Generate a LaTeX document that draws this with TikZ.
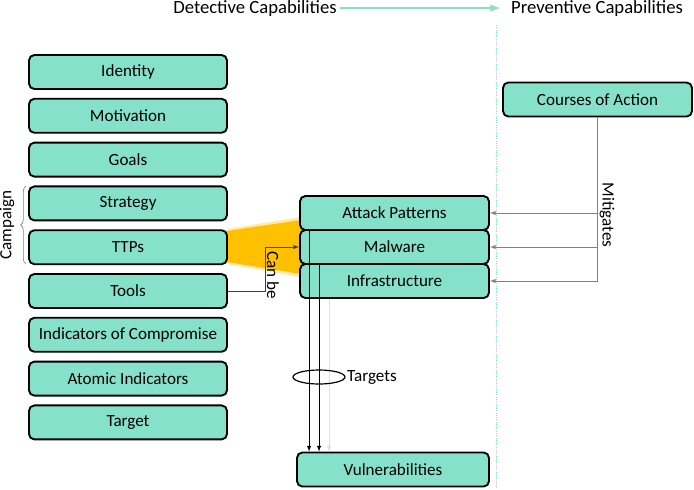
\documentclass[tikz,border=0pt]{standalone}
\usepackage{fontspec}
\setmainfont{Carlito}
\usepackage{tikz}
\usetikzlibrary{arrows, positioning, shapes.geometric, decorations.pathreplacing, backgrounds}
\definecolor{objgreen}{HTML}{86E1CA}
\definecolor{ttpyellow}{HTML}{FFC000}
\definecolor{capteal}{HTML}{86DFC6}

\begin{document}
\begin{tikzpicture}[x=0.75pt, y=-0.75pt,
		objbox/.style={draw=black, line width=1.4pt, rounded corners=4pt, fill=objgreen,
			minimum width=148.5pt, minimum height=25.5pt, inner sep=0pt, font=\fontsize{12.8}{14}\selectfont},
		relbox/.style={objbox, minimum width=141.75pt},
		rel/.style={->, >=latex, black, line width=0.5pt},
		rellabel/.style={font=\fontsize{12.8}{14}\selectfont, inner sep=0pt}]
		\useasboundingbox (0,0) rectangle (694,490);

			%header:
			\node[font=\fontsize{14}{16}\selectfont, inner sep=0pt, anchor=base] (detect) at (255,13) {Detective Capabilities};
			\node[font=\fontsize{14}{16}\selectfont, inner sep=0pt, anchor=base] (prevent) at (597,13) {Preventive Capabilities};
			\draw[capteal, line width=1.5pt, -latex] ([xshift=2pt]detect.east) -- ([xshift=-8pt]prevent.west);
			\draw[capteal, densely dotted, line width=0.7pt] (496,25) -- (496,490);

			%left column:
			\foreach \name/\txt [count=\i] in {ident/Identity, motiv/Motivation, goals/Goals, strat/Strategy, ttp/TTPs, tools/Tools, ioc/Indicators of Compromise, atomic/Atomic Indicators, target/Target}
			\node[objbox] (\name) at (128, {72+43.8*(\i-1)}) {\txt};

			\draw[gray, line width=0.5pt, decorate, decoration={brace, amplitude=4pt}] (26,264) -- (26,186);
			\node[rotate=90, rellabel] (campaign) at (7,225) {Campaign};

			%middle column:
			\node[relbox] (attack) at (394.5,213) {Attack Patterns};
			\node[relbox] (malware) at (394.5,247) {Malware};
			\node[relbox] (infra) at (394.5,281) {Infrastructure};
			\node[relbox, minimum width=144pt] (vuln) at (393,469.5) {Vulnerabilities};
			\node[relbox] (coa) at (597.5,99.5) {Courses of Action};

			%ttp wedge
			\begin{scope}[on background layer]
			\fill[ttpyellow!35] (227,229) -- (301,217) -- (301,277) -- (227,264) -- cycle;
			\fill[ttpyellow] (227,231) -- (301,220) -- (301,274) -- (227,262) -- cycle;
			\end{scope}

			%can be:
			\draw[rel, draw=darkgray] (tools.east) -- ++(37,0) |- (malware.west);
			\node[rotate=-90, rellabel] (canbe) at (273,275) {Can be};

			%targets:
			\coordinate (ap-t) at ([xshift=7.5pt]attack.south west);
			\coordinate (mw-t) at ([xshift=15pt]malware.south west);
			\coordinate (in-t) at ([xshift=22.5pt]infra.south west);
			\draw[rel] (ap-t) -- (ap-t |- vuln.north);
			\draw[rel] (mw-t) -- (mw-t |- vuln.north);
			\draw[rel, draw=gray!25] (in-t) -- (in-t |- vuln.north);
			\node[draw, ellipse, line width=0.9pt, minimum width=39pt, minimum height=10.5pt, inner sep=0pt] (tgt) at (319,377) {};
			\node[rellabel, anchor=west] (tgtlabel) at ([xshift=1pt]tgt.east) {Targets};

			%mitigates:
			\draw[rel, draw=gray] (coa.south) |- (infra.east);
			\draw[rel, draw=gray] (coa.south |- malware.east) -- (malware.east);
			\draw[rel, draw=gray] (coa.south |- attack.east) -- (attack.east);
			\node[rotate=-90, rellabel] (mitig) at (607,215) {Mitigates};
	\end{tikzpicture}
\end{document}
